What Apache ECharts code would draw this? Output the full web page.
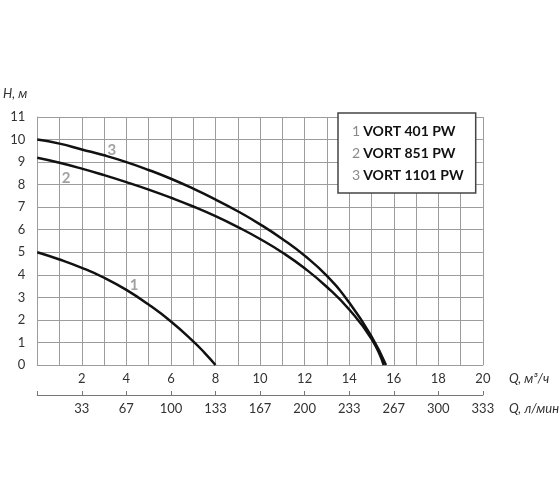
<!DOCTYPE html>
<html>
<head>
<meta charset="utf-8">
<script src="https://cdn.jsdelivr.net/npm/echarts@6/dist/echarts.min.js"></script>
<style>
    html, body { margin: 0; padding: 0; background: #fff; }
    #chart { width: 560px; height: 504px; }
</style>
</head>
<body>
<div id="chart"></div>
<script>
    // Q, m3/h  ->  H, m
    var x401 = [0, 1, 2, 3, 4, 5, 6, 7, 7.5, 8];
    var h401 = [5.0, 4.68, 4.31, 3.87, 3.33, 2.68, 1.93, 1.05, 0.55, 0];
    var x851 = [0, 1, 2, 3, 4, 5, 6, 7, 8, 9, 10, 11, 12, 13, 14, 15, 15.55];
    var h851 = [9.19, 8.97, 8.71, 8.42, 8.11, 7.78, 7.42, 7.03, 6.6, 6.12, 5.59, 4.99, 4.29, 3.46, 2.46, 1.16, 0];
    var x1101 = [0, 1, 2, 3, 4, 5, 6, 7, 8, 9, 10, 11, 12, 13, 14, 15, 15.65];
    var h1101 = [10, 9.82, 9.56, 9.3, 9.0, 8.65, 8.26, 7.82, 7.34, 6.82, 6.24, 5.59, 4.85, 3.95, 2.77, 1.27, 0];

    var names = ['VORT 401 PW', 'VORT 851 PW', 'VORT 1101 PW'];
    var curveTags = ['1', '2', '3'];
    var tagPos = [[4.35, 3.55], [1.3, 8.3], [3.35, 9.55]];
    // second axis, l/min under every 2 m3/h
    var litersLabels = ['', '33', '67', '100', '133', '167', '200', '233', '267', '300', '333'];

    var font = 'Lato';
    var txt = '#333';
    var grey = '#9c9c9c';

    function pairs(xs, ys) {
        var out = [];
        for (var i = 0; i < xs.length; i++) out.push([xs[i], ys[i]]);
        return out;
    }

    function curve(name, xs, ys) {
        return {
            name: name, type: 'line', smooth: 0.5, symbol: 'none',
            data: pairs(xs, ys),
            lineStyle: { color: '#111', width: 2.5 },
            itemStyle: { color: '#111' },
            z: 3
        };
    }

    var tagData = [];
    for (var i = 0; i < curveTags.length; i++) {
        tagData.push({ value: tagPos[i], name: curveTags[i] });
    }

    var xNameStyle = {
        fontFamily: font, fontStyle: 'italic', fontSize: 13, color: txt,
        verticalAlign: 'top', lineHeight: 14, padding: [7, 0, 0, 0]
    };

    var chart = echarts.init(document.getElementById('chart'));
    chart.setOption({
        animation: false,
        textStyle: { fontFamily: font },
        grid: { left: 34, top: 117, right: 74, bottom: 139 },
        legend: {
            data: names,
            left: 338, top: 113,
            orient: 'vertical',
            icon: 'none',
            itemWidth: 0, itemHeight: 0,
            itemGap: 8,
            padding: [11, 12, 11, 9],
            backgroundColor: '#fff',
            borderColor: '#444', borderWidth: 1.5,
            selectedMode: false,
            formatter: function (name) {
                return '{n|' + (names.indexOf(name) + 1) + '} {b|' + name + '}';
            },
            textStyle: {
                rich: {
                    n: { fontFamily: font, fontSize: 14, color: '#8a8a8a', lineHeight: 16 },
                    b: { fontFamily: font, fontSize: 14, fontWeight: 'bold', color: '#111', lineHeight: 16 }
                }
            },
            z: 10
        },
        xAxis: [{
            type: 'value', min: 0, max: 20, interval: 1,
            position: 'bottom',
            name: 'Q, м³/ч', nameLocation: 'end', nameGap: 26, nameMoveOverlap: false,
            nameTextStyle: xNameStyle,
            axisLine: { show: true, lineStyle: { color: grey, width: 1 } },
            axisTick: { show: false },
            axisLabel: {
                fontFamily: font, fontSize: 13, color: txt, margin: 7,
                formatter: function (v) { return (v > 0 && v % 2 === 0) ? String(v) : ''; }
            },
            splitLine: { show: true, lineStyle: { color: grey, width: 1 } }
        }, {
            type: 'value', min: 0, max: 20, interval: 2,
            position: 'bottom', offset: 30,
            name: 'Q, л/мин', nameLocation: 'end', nameGap: 26, nameMoveOverlap: false,
            nameTextStyle: xNameStyle,
            axisLine: { show: true, lineStyle: { color: '#777', width: 1 } },
            axisTick: { show: true, inside: true, length: 4, lineStyle: { color: '#777' } },
            axisLabel: {
                fontFamily: font, fontSize: 13, color: txt, margin: 7,
                formatter: function (v) { return litersLabels[Math.round(v / 2)] || ''; }
            },
            splitLine: { show: false }
        }],
        yAxis: {
            type: 'value', min: 0, max: 11, interval: 1,
            name: 'H, м', nameLocation: 'end', nameGap: 17,
            nameTextStyle: { fontFamily: font, fontStyle: 'italic', fontSize: 13, color: txt, align: 'right', padding: [0, 10, 0, 0] },
            axisLine: { show: true, lineStyle: { color: grey, width: 1 } },
            axisTick: { show: false },
            axisLabel: { fontFamily: font, fontSize: 13, color: txt, margin: 12 },
            splitLine: { show: true, lineStyle: { color: grey, width: 1 } }
        },
        series: [
            curve(names[0], x401, h401),
            curve(names[1], x851, h851),
            curve(names[2], x1101, h1101),
            {
                type: 'scatter', symbolSize: 0, silent: true,
                data: tagData,
                label: {
                    show: true, position: 'inside',
                    formatter: '{b}',
                    fontFamily: font, fontSize: 15, fontWeight: 'bold', color: '#8a8a8a'
                },
                z: 4
            }
        ]
    });
</script>
</body>
</html>
